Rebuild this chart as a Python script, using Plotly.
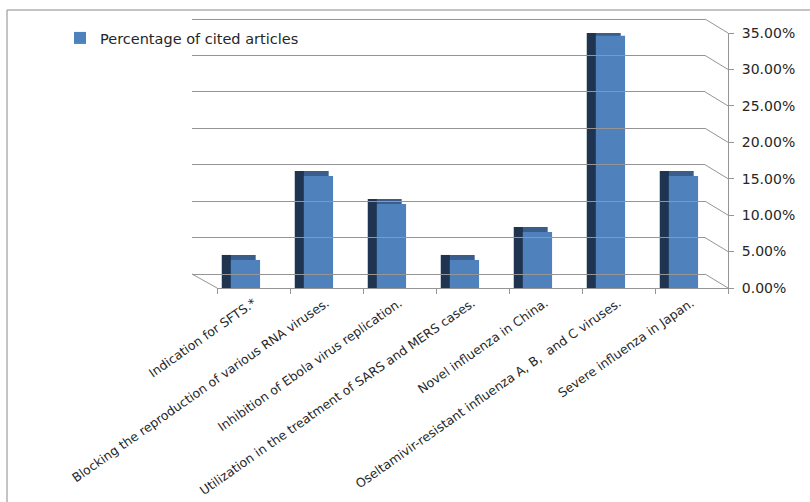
import plotly.graph_objects as go

categories = [
    "Indication for SFTS.*",
    "Blocking the reproduction of various RNA viruses.",
    "Inhibition of Ebola virus replication.",
    "Utilization in the treatment of SARS and MERS cases.",
    "Novel influenza in China.",
    "Oseltamivir-resistant influenza A, B,  and C viruses.",
    "Severe influenza in Japan.",
]
percent_cited = [0.0385, 0.1538, 0.1154, 0.0385, 0.0769, 0.3462, 0.1538]
tick_vals = [0.0, 0.05, 0.10, 0.15, 0.20, 0.25, 0.30, 0.35]
series_name = "Percentage of cited articles"

# ---- layout geometry (pixels) ----
W, H = 810, 502
L, R = 192, 728           # plot area left (back wall) / right (axis)
T, B = 15, 288            # plot area top / bottom (front floor)
DX, DY = 23, 14           # 3D depth offset of back wall
front_h = 255             # pixel height of 0..35% on the front plane
plot_w, plot_h = R - L, B - T
ymax = 0.35
depth_val = 5 / front_h * ymax  # top face depth in value units
pad_px = 2
pad = pad_px / front_h * ymax

def px_x(p):
    return (p - L) / plot_w

def px_y(p):
    return (B - p) / plot_h

fig = go.Figure()

# top faces (behind)
fig.add_trace(go.Bar(
    x=categories, y=[v + depth_val for v in percent_cited],
    width=0.40, offset=-0.37, marker=dict(color="#3A5E8C", line=dict(width=0)),
    showlegend=False, hoverinfo="skip"))
# side faces
fig.add_trace(go.Bar(
    x=categories, y=[v + depth_val for v in percent_cited],
    width=0.125, offset=-0.435, marker=dict(color="#1F3450", line=dict(width=0)),
    showlegend=False, hoverinfo="skip"))
# front faces
fig.add_trace(go.Bar(
    x=categories, y=percent_cited, name=series_name,
    width=0.40, offset=-0.31, marker=dict(color="#4F81BD", line=dict(width=0)),
    showlegend=True))
# dummy for back-wall subplot
fig.add_trace(go.Scatter(x=[None], y=[None], xaxis="x2", yaxis="y2",
                         showlegend=False, hoverinfo="skip"))

shapes = []
grid_col = "#959595"
for v in tick_vals:
    yb = px_y(B - DY - v / ymax * front_h)
    yf = px_y(B - v / ymax * front_h)
    shapes.append(dict(type="line", xref="paper", yref="paper",
                       x0=px_x(R - DX), y0=yb, x1=px_x(R), y1=yf,
                       line=dict(color=grid_col, width=1)))
# floor left edge
shapes.append(dict(type="line", xref="paper", yref="paper",
                   x0=px_x(L), y0=px_y(B - DY), x1=px_x(L + 25), y1=px_y(B),
                   line=dict(color=grid_col, width=1)))
# chart border (top and left)
shapes.append(dict(type="line", xref="paper", yref="paper",
                   x0=px_x(7), y0=px_y(10), x1=px_x(W + 5), y1=px_y(10),
                   line=dict(color="#8A8A8A", width=1)))
shapes.append(dict(type="line", xref="paper", yref="paper",
                   x0=px_x(7), y0=px_y(10), x1=px_x(7), y1=px_y(H + 5),
                   line=dict(color="#8A8A8A", width=1)))

fig.update_layout(
    width=W, height=H,
    margin=dict(l=L, r=W - R, t=T, b=H - B, autoexpand=False),
    paper_bgcolor="white", plot_bgcolor="rgba(0,0,0,0)",
    barmode="overlay",
    font=dict(family="DejaVu Sans", color="#262626"),
    shapes=shapes,
    xaxis=dict(domain=[px_x(L + 25), 1], type="category",
               range=[-0.5, len(categories) - 0.5], automargin=False,
               showgrid=False, showline=True, linecolor=grid_col, linewidth=1,
               ticks="outside", tickson="boundaries", ticklen=5, tickcolor=grid_col,
               tickangle=-35, ticklabelstandoff=2,
               tickfont=dict(size=12.5, family="DejaVu Sans", color="#262626"),
               zeroline=False, anchor="y"),
    yaxis=dict(domain=[0, front_h / plot_h], range=[0, ymax], side="right",
               automargin=False,
               tickvals=tick_vals, tickformat=".2%", showgrid=False,
               showline=True, linecolor=grid_col, linewidth=1,
               ticks="outside", ticklen=5, tickcolor=grid_col, ticklabelstandoff=5,
               tickfont=dict(size=14, family="DejaVu Sans", color="#262626"),
               zeroline=False, anchor="x"),
    xaxis2=dict(domain=[0, px_x(R - DX)], range=[0, 1], visible=False,
                automargin=False, showgrid=False, zeroline=False, anchor="y2"),
    yaxis2=dict(domain=[(DY - pad_px) / plot_h, (DY + front_h + pad_px) / plot_h],
                range=[-pad, ymax + pad], tickvals=tick_vals, automargin=False,
                showgrid=True, gridcolor=grid_col, gridwidth=1,
                showticklabels=False, showline=False,
                zeroline=True, zerolinecolor=grid_col, zerolinewidth=1,
                ticks="", anchor="x2"),
    legend=dict(x=px_x(60), y=px_y(22), xanchor="left", yanchor="top",
                bgcolor="rgba(0,0,0,0)",
                font=dict(size=14.5, family="DejaVu Sans", color="#262626")),
    showlegend=True,
)

fig.write_html("out.html")
